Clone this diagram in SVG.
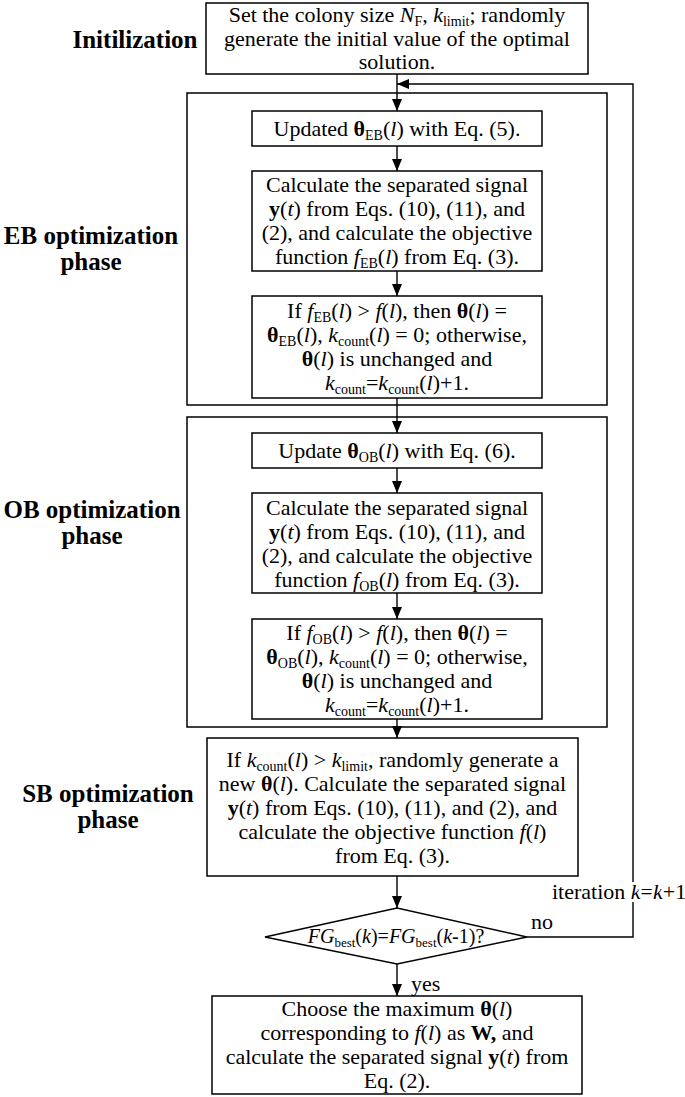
<svg xmlns="http://www.w3.org/2000/svg" width="685" height="1097" viewBox="0 0 685 1097">
<style>
text{font-family:"Liberation Serif","Times New Roman",serif;font-size:22px;fill:#000}
.c{text-anchor:middle}
.i{font-style:italic}
.b{font-weight:bold}
.s{font-size:14px}
.d{font-size:20px}
.ds{font-size:13px}
.lbl{font-weight:bold;font-size:25px;text-anchor:middle}
.box{fill:#fff;stroke:#000;stroke-width:1.5}
.outer{fill:none;stroke:#000;stroke-width:1.5}
.conn{fill:none;stroke:#000;stroke-width:1.4}
.halo{paint-order:stroke;stroke:#fff;stroke-width:6px;stroke-linejoin:round}
</style>
<defs>
<marker id="arr" viewBox="0 0 12 10" refX="12" refY="5" markerWidth="12" markerHeight="10" markerUnits="userSpaceOnUse" orient="auto">
<path d="M0,0 L12,5 L0,10 z" fill="#000"/>
</marker>
</defs>
<rect width="685" height="1097" fill="#fff"/>

<g id="phase-labels">
<text class="lbl" x="135" y="48">Initilization</text>
<text class="lbl" x="91" y="244">EB optimization</text>
<text class="lbl" x="91" y="270">phase</text>
<text class="lbl" x="92" y="518">OB optimization</text>
<text class="lbl" x="92" y="544">phase</text>
<text class="lbl" x="108" y="802">SB optimization</text>
<text class="lbl" x="108" y="828">phase</text>
</g>

<g id="eb-phase"><rect class="outer" x="187" y="93" width="420" height="312"/></g>
<g id="ob-phase"><rect class="outer" x="187" y="417" width="420" height="310"/></g>

<g id="connectors">
<path class="conn" d="M397,74 V111" marker-end="url(#arr)"/>
<path class="conn" d="M397,146 V171" marker-end="url(#arr)"/>
<path class="conn" d="M397,271 V296" marker-end="url(#arr)"/>
<path class="conn" d="M397,398 V433" marker-end="url(#arr)"/>
<path class="conn" d="M397,468 V493" marker-end="url(#arr)"/>
<path class="conn" d="M397,593 V619" marker-end="url(#arr)"/>
<path class="conn" d="M397,719 V738" marker-end="url(#arr)"/>
<path class="conn" d="M397,876 V908" marker-end="url(#arr)"/>
<path class="conn" d="M397,964 V996" marker-end="url(#arr)"/>
<path class="conn" d="M527,937 H633 V84 H397" marker-end="url(#arr)"/>
</g>

<g id="init">
<rect class="box" x="206" y="3" width="382" height="71"/>
<text class="c" x="397" y="22">Set the colony size <tspan class="i">N</tspan><tspan class="s" dy="4">F</tspan><tspan dy="-4">, </tspan><tspan class="i">k</tspan><tspan class="s" dy="4">limit</tspan><tspan dy="-4">; randomly</tspan></text>
<text class="c" x="397" y="46">generate the initial value of the optimal</text>
<text class="c" x="397" y="69">solution.</text>
</g>

<g id="eb-update">
<rect class="box" x="252" y="111" width="290" height="35"/>
<text class="c" x="397" y="136">Updated <tspan class="b">θ</tspan><tspan class="s" dy="4">EB</tspan><tspan dy="-4">(</tspan><tspan class="i">l</tspan>) with Eq. (5).</text>
</g>

<g id="eb-calc">
<rect class="box" x="252" y="171" width="290" height="100"/>
<text class="c" x="397" y="192">Calculate the separated signal</text>
<text class="c" x="397" y="216"><tspan class="b">y</tspan>(<tspan class="i">t</tspan>) from Eqs. (10), (11), and</text>
<text class="c" x="397" y="240">(2), and calculate the objective</text>
<text class="c" x="397" y="264">function <tspan class="i">f</tspan><tspan class="s" dy="4">EB</tspan><tspan dy="-4">(</tspan><tspan class="i">l</tspan>) from Eq. (3).</text>
</g>

<g id="eb-select">
<rect class="box" x="252" y="296" width="290" height="102"/>
<text class="c" x="397" y="318">If <tspan class="i">f</tspan><tspan class="s" dy="4">EB</tspan><tspan dy="-4">(</tspan><tspan class="i">l</tspan>) &gt; <tspan class="i">f</tspan>(<tspan class="i">l</tspan>), then <tspan class="b">θ</tspan>(<tspan class="i">l</tspan>) =</text>
<text class="c" x="397" y="342"><tspan class="b">θ</tspan><tspan class="s" dy="4">EB</tspan><tspan dy="-4">(</tspan><tspan class="i">l</tspan>), <tspan class="i">k</tspan><tspan class="s" dy="4">count</tspan><tspan dy="-4">(</tspan><tspan class="i">l</tspan>) = 0; otherwise,</text>
<text class="c" x="397" y="366"><tspan class="b">θ</tspan>(<tspan class="i">l</tspan>) is unchanged and</text>
<text class="c" x="397" y="390"><tspan class="i">k</tspan><tspan class="s" dy="4">count</tspan><tspan dy="-4">=</tspan><tspan class="i">k</tspan><tspan class="s" dy="4">count</tspan><tspan dy="-4">(</tspan><tspan class="i">l</tspan>)+1.</text>
</g>

<g id="ob-update">
<rect class="box" x="252" y="433" width="290" height="35"/>
<text class="c" x="397" y="458">Update <tspan class="b">θ</tspan><tspan class="s" dy="4">OB</tspan><tspan dy="-4">(</tspan><tspan class="i">l</tspan>) with Eq. (6).</text>
</g>

<g id="ob-calc">
<rect class="box" x="252" y="493" width="290" height="100"/>
<text class="c" x="397" y="515">Calculate the separated signal</text>
<text class="c" x="397" y="539"><tspan class="b">y</tspan>(<tspan class="i">t</tspan>) from Eqs. (10), (11), and</text>
<text class="c" x="397" y="563">(2), and calculate the objective</text>
<text class="c" x="397" y="587">function <tspan class="i">f</tspan><tspan class="s" dy="4">OB</tspan><tspan dy="-4">(</tspan><tspan class="i">l</tspan>) from Eq. (3).</text>
</g>

<g id="ob-select">
<rect class="box" x="252" y="619" width="290" height="100"/>
<text class="c" x="397" y="640">If <tspan class="i">f</tspan><tspan class="s" dy="4">OB</tspan><tspan dy="-4">(</tspan><tspan class="i">l</tspan>) &gt; <tspan class="i">f</tspan>(<tspan class="i">l</tspan>), then <tspan class="b">θ</tspan>(<tspan class="i">l</tspan>) =</text>
<text class="c" x="397" y="664"><tspan class="b">θ</tspan><tspan class="s" dy="4">OB</tspan><tspan dy="-4">(</tspan><tspan class="i">l</tspan>), <tspan class="i">k</tspan><tspan class="s" dy="4">count</tspan><tspan dy="-4">(</tspan><tspan class="i">l</tspan>) = 0; otherwise,</text>
<text class="c" x="397" y="688"><tspan class="b">θ</tspan>(<tspan class="i">l</tspan>) is unchanged and</text>
<text class="c" x="397" y="712"><tspan class="i">k</tspan><tspan class="s" dy="4">count</tspan><tspan dy="-4">=</tspan><tspan class="i">k</tspan><tspan class="s" dy="4">count</tspan><tspan dy="-4">(</tspan><tspan class="i">l</tspan>)+1.</text>
</g>

<g id="sb-phase">
<rect class="box" x="207" y="738" width="371" height="138"/>
<text class="c" x="392.5" y="767">If <tspan class="i">k</tspan><tspan class="s" dy="4">count</tspan><tspan dy="-4">(</tspan><tspan class="i">l</tspan>) &gt; <tspan class="i">k</tspan><tspan class="s" dy="4">limit</tspan><tspan dy="-4">, randomly generate a</tspan></text>
<text class="c" x="392.5" y="791">new <tspan class="b">θ</tspan>(<tspan class="i">l</tspan>). Calculate the separated signal</text>
<text class="c" x="392.5" y="815"><tspan class="b">y</tspan>(<tspan class="i">t</tspan>) from Eqs. (10), (11), and (2), and</text>
<text class="c" x="392.5" y="839">calculate the objective function <tspan class="i">f</tspan>(<tspan class="i">l</tspan>)</text>
<text class="c" x="392.5" y="863">from Eq. (3).</text>
</g>

<g id="decision">
<polygon class="box" points="265,937 397,908 527,937 397,964"/>
<text class="c d" x="396" y="943"><tspan class="i">FG</tspan><tspan class="ds" dy="4">best</tspan><tspan dy="-4">(</tspan><tspan class="i">k</tspan>)=<tspan class="i">FG</tspan><tspan class="ds" dy="4">best</tspan><tspan dy="-4">(</tspan><tspan class="i">k</tspan>-1)?</text>
</g>

<g id="edge-labels">
<text x="531" y="929">no</text>
<text x="411" y="991">yes</text>
<text class="halo" x="552" y="899">iteration <tspan class="i">k</tspan>=<tspan class="i">k</tspan>+1</text>
</g>

<g id="final">
<rect class="box" x="212" y="996" width="370" height="98"/>
<text class="c" x="397" y="1016">Choose the maximum <tspan class="b">θ</tspan>(<tspan class="i">l</tspan>)</text>
<text class="c" x="397" y="1040">corresponding to <tspan class="i">f</tspan>(<tspan class="i">l</tspan>) as <tspan class="b">W,</tspan> and</text>
<text class="c" x="397" y="1064">calculate the separated signal <tspan class="b">y</tspan>(<tspan class="i">t</tspan>) from</text>
<text class="c" x="397" y="1088">Eq. (2).</text>
</g>
</svg>
